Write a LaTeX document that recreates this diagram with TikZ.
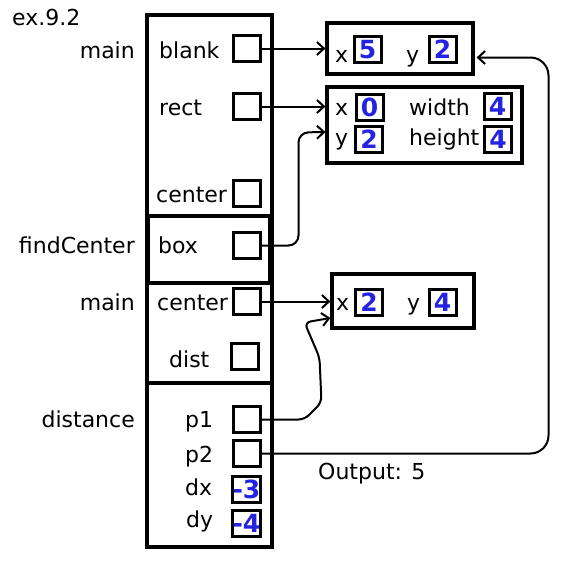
\documentclass[tikz,border=0pt]{standalone}
\usepackage{fontspec}
\setmainfont{DejaVu Sans}
\usetikzlibrary{calc, positioning}
\usetikzlibrary{arrows.meta}

\definecolor{valblue}{RGB}{35,35,225}

\begin{document}
\begin{tikzpicture}[x=1pt, y=-1pt,
    every node/.style={font=\fontsize{22}{26}\selectfont},
    frame/.style={draw, line width=3.2pt, inner sep=0pt},
    cell/.style={draw, line width=3pt, minimum width=27pt, minimum height=26pt, inner sep=0pt},
    val/.style={cell, text=valblue, font=\fontsize{25}{26}\selectfont\bfseries},
    lbl/.style={anchor=base west, inner sep=0pt},
    fname/.style={anchor=base east, inner sep=0pt},
    ptr/.style={line width=2pt, -{Straight Barb[length=7pt, width=13pt]}}]
      \useasboundingbox (0,0) rectangle (565,560);

      % stack frames
      \draw[frame] (147,15) rectangle (272,383);
      \draw[frame] (148,216) rectangle (270,283);
      \draw[frame] (147,283) rectangle (272,383);
      \draw[frame] (147,383) rectangle (272,547);

      \node[lbl] (title) at (12,25) {ex.9.2};
      \node[fname] (mainA) at (135,58) {main};
      \node[fname] (findc) at (135,253) {findCenter};
      \node[fname] (mainB) at (135,310) {main};
      \node[fname] (distf) at (135,427) {distance};

      % variables
      \node[lbl] (blankl) at (159,58) {blank};
      \node[cell] (blankv) at (246.5,48.5) {};
      \node[lbl] (rectl) at (159,115) {rect};
      \node[cell] (rectv) at (246.5,106.5) {};
      \node[lbl] (ctrl) at (156,202) {center};
      \node[cell] (ctrv) at (246.5,193) {};
      \node[lbl] (boxl) at (158,253) {box};
      \node[cell] (boxv) at (246.5,245.5) {};
      \node[lbl] (ctrBl) at (157,310) {center};
      \node[cell] (ctrBv) at (246.5,301.5) {};
      \node[lbl] (distl) at (169,367) {dist};
      \node[cell] (distv) at (245,356.5) {};
      \node[lbl] (pAl) at (185,427) {p1};
      \node[cell] (pAv) at (246.5,419.5) {};
      \node[lbl] (pBl) at (185,462) {p2};
      \node[cell] (pBv) at (246.5,453.5) {};
      \node[lbl] (dxl) at (185,495) {dx};
      \node[val] (dxv) at (246.5,489.5) {-3};
      \node[lbl] (dyl) at (186,527) {dy};
      \node[val] (dyv) at (246.5,523) {-4};

      % objects
      \node[frame, minimum width=146pt, minimum height=51pt] (blankobj) at (400,48.5) {};
      \node[lbl] (bxl) at (335,62) {x};
      \node[val] (bxv) at (367.5,49.5) {5};
      \node[lbl] (byl) at (406,62) {y};
      \node[val] (byv) at (442.5,49.5) {2};

      \node[frame, minimum width=195pt, minimum height=76pt] (rectobj) at (424.5,125) {};
      \node[lbl] (rxl) at (335,115) {x};
      \node[val] (rxv) at (369.5,107.5) {0};
      \node[lbl] (rwl) at (409,115) {width};
      \node[val] (rwv) at (497.5,106.5) {4};
      \node[lbl] (ryl) at (335,145) {y};
      \node[val] (ryv) at (369,139) {2};
      \node[lbl] (rhl) at (409,145) {height};
      \node[val] (rhv) at (498,139.5) {4};

      \node[frame, minimum width=142pt, minimum height=54pt] (ptobj) at (403,301) {};
      \node[lbl] (pxl) at (336,310) {x};
      \node[val] (pxv) at (369,302) {2};
      \node[lbl] (pyl) at (407,310) {y};
      \node[val] (pyv) at (442.5,302) {4};

      \node[lbl] (output) at (318,479) {Output: 5};

      % pointers
      \draw[ptr] (blankv.east) -- (blankv.east -| blankobj.west);
      \draw[ptr] (rectv.east) -- (rectv.east -| rectobj.west);
      \draw[ptr, rounded corners=10pt] (boxv.east) -- ++(37,0) -- ++(0,-113) -- ($(rectobj.west)+(0,7)$);
      \draw[ptr] (ctrBv.east) -- (ctrBv.east -| ptobj.west);
      \draw[ptr, rounded corners=6pt] (pAv.east) -- ++(43,0) -- ++(17,-17) -- ++(-2,-45) -- ++(-15,-35) -- ($(ptobj.west)+(0,17)$);
      \draw[ptr, rounded corners=18pt] (pBv.east) -- ++(287,0) -- ++(0,-396) -- ($(blankobj.east)+(2,9)$);
    \end{tikzpicture}
\end{document}
